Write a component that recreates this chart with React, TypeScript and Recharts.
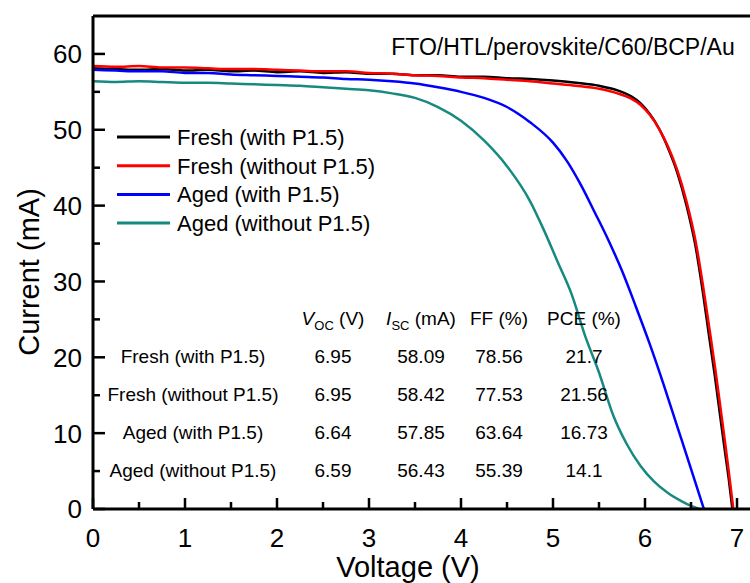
import { LineChart, Line, XAxis, YAxis, Legend, ReferenceLine, Label } from "recharts";

const FONT = '"Liberation Sans", Arial, Helvetica, sans-serif';

// J-V sweeps: voltage (V) and current (mA) per device
const freshWithV = [0, 0.25, 0.5, 0.75, 1, 1.25, 1.5, 1.75, 2, 2.25, 2.5, 2.75, 3, 3.25, 3.5, 3.75, 4, 4.25, 4.5, 4.75, 5, 5.25, 5.5, 5.7, 5.85, 5.95, 6.05, 6.15, 6.25, 6.35, 6.45, 6.55, 6.63, 6.7, 6.76, 6.82, 6.87, 6.91, 6.95];
const freshWithI = [58.1, 58.0, 57.9, 58.0, 57.8, 57.9, 57.7, 57.8, 57.6, 57.7, 57.5, 57.6, 57.4, 57.4, 57.2, 57.2, 57.0, 57.0, 56.8, 56.7, 56.5, 56.2, 55.8, 55.2, 54.4, 53.5, 52.1, 50.2, 47.6, 44.4, 40.1, 34.6, 28.5, 22.5, 17.5, 12.0, 7.5, 4.0, 0];

const freshWithoutV = [0, 0.25, 0.5, 0.75, 1, 1.25, 1.5, 1.75, 2, 2.25, 2.5, 2.75, 3, 3.25, 3.5, 3.75, 4, 4.25, 4.5, 4.75, 5, 5.25, 5.5, 5.7, 5.85, 5.95, 6.05, 6.15, 6.25, 6.35, 6.45, 6.55, 6.63, 6.7, 6.76, 6.82, 6.87, 6.91, 6.94, 6.96];
const freshWithoutI = [58.4, 58.3, 58.4, 58.2, 58.2, 58.1, 58.0, 58.0, 57.9, 57.8, 57.7, 57.7, 57.5, 57.4, 57.2, 57.1, 56.9, 56.8, 56.6, 56.4, 56.1, 55.8, 55.4, 54.8, 54.1, 53.3, 52.0, 50.2, 47.8, 44.7, 40.6, 35.3, 29.5, 23.8, 18.8, 13.4, 8.8, 5.0, 2.0, 0];

const agedWithV = [0, 0.25, 0.5, 0.75, 1, 1.25, 1.5, 1.75, 2, 2.25, 2.5, 2.75, 3, 3.25, 3.5, 3.75, 4, 4.25, 4.5, 4.75, 5, 5.15, 5.3, 5.45, 5.6, 5.75, 5.9, 6.05, 6.2, 6.35, 6.5, 6.64];
const agedWithI = [57.9, 57.8, 57.7, 57.7, 57.5, 57.5, 57.3, 57.2, 57.1, 57.0, 56.9, 56.7, 56.6, 56.4, 56.1, 55.6, 55.0, 54.2, 53.0, 51.0, 48.3, 45.9, 42.8, 39.2, 35.5, 31.4, 26.7, 21.8, 16.5, 10.9, 5.3, 0];

const agedWithoutV = [0, 0.25, 0.5, 0.75, 1, 1.25, 1.5, 1.75, 2, 2.25, 2.5, 2.75, 3, 3.25, 3.5, 3.75, 4, 4.25, 4.5, 4.75, 4.9, 5.05, 5.2, 5.35, 5.5, 5.65, 5.8, 5.95, 6.1, 6.25, 6.4, 6.5, 6.59];
const agedWithoutI = [56.4, 56.3, 56.4, 56.3, 56.2, 56.2, 56.1, 56.0, 55.9, 55.8, 55.6, 55.4, 55.2, 54.8, 54.2, 53.0, 51.2, 48.6, 45.2, 40.6, 36.8, 32.6, 28.4, 22.8, 18.0, 12.5, 8.6, 5.7, 3.6, 2.1, 1.0, 0.4, 0];

// photovoltaic parameters table
const devices = ["Fresh (with P1.5)", "Fresh (without P1.5)", "Aged (with P1.5)", "Aged (without P1.5)"];
const vocValues = ["6.95", "6.95", "6.64", "6.59"];
const iscValues = ["58.09", "58.42", "57.85", "56.43"];
const ffValues = ["78.56", "77.53", "63.64", "55.39"];
const pceValues = ["21.7", "21.56", "16.73", "14.1"];

const seriesColors = ["#000000", "#ff0000", "#0000ff", "#178a80"];

const xTicks = [0, 0.5, 1, 1.5, 2, 2.5, 3, 3.5, 4, 4.5, 5, 5.5, 6, 6.5, 7];
const yTicks = [0, 5, 10, 15, 20, 25, 30, 35, 40, 45, 50, 55, 60];

const toPoints = (v: number[], i: number[]) => v.map((volt, k) => ({ v: volt, i: i[k] }));

const series = [
  { name: devices[0], data: toPoints(freshWithV, freshWithI), color: seriesColors[0] },
  { name: devices[1], data: toPoints(freshWithoutV, freshWithoutI), color: seriesColors[1] },
  { name: devices[2], data: toPoints(agedWithV, agedWithI), color: seriesColors[2] },
  { name: devices[3], data: toPoints(agedWithoutV, agedWithoutI), color: seriesColors[3] },
];

function XTick({ x, y, payload }: any) {
  const major = Number.isInteger(payload.value);
  return (
    <g>
      <line x1={x} x2={x} y1={y} y2={y - (major ? 11 : 7)} stroke="#000" strokeWidth={2.5} />
      {major && (
        <text x={x} y={y + 38} textAnchor="middle" fontSize={26} fontFamily={FONT} fill="#000">
          {payload.value}
        </text>
      )}
    </g>
  );
}

function YTick({ x, y, payload }: any) {
  const major = payload.value % 10 === 0;
  return (
    <g>
      <line x1={x} x2={x + (major ? 12 : 7)} y1={y} y2={y} stroke="#000" strokeWidth={2.5} />
      {major && (
        <text x={x - 11} y={y} dy="0.36em" textAnchor="end" fontSize={26} fontFamily={FONT} fill="#000">
          {payload.value}
        </text>
      )}
    </g>
  );
}

function LegendBox({ payload }: any) {
  // keep the legend in series order
  const items = [...(payload || [])].sort(
    (a: any, b: any) => devices.indexOf(a.value) - devices.indexOf(b.value)
  );
  return (
    <svg width={300} height={116}>
      {items.map((p: any, k: number) => {
        const cy = 14 + k * 28.7;
        return (
          <g key={p.value}>
            <line x1={0} x2={53} y1={cy} y2={cy} stroke={p.color} strokeWidth={3} />
            <text x={60} y={cy} dy="0.36em" fontSize={22} fontFamily={FONT} fill="#000">
              {p.value}
            </text>
          </g>
        );
      })}
    </svg>
  );
}

const colX = [193, 333, 421, 499, 584];
const headerY = 318;
const rowY = [356, 394, 432, 470];

function ParamTable() {
  const txt = { fontSize: 19, fontFamily: FONT, fill: "#000", textAnchor: "middle" as const };
  return (
    <svg width={750} height={583} style={{ position: "absolute", left: 0, top: 0, pointerEvents: "none" }}>
      <text x={563} y={47} dy="0.36em" fontSize={23} fontFamily={FONT} fill="#000" textAnchor="middle">
        FTO/HTL/perovskite/C60/BCP/Au
      </text>
      <text x={colX[1]} y={headerY} dy="0.36em" {...txt}>
        <tspan fontStyle="italic">V</tspan>
        <tspan fontSize={13} dy={5}>OC</tspan>
        <tspan dy={-5}> (V)</tspan>
      </text>
      <text x={colX[2]} y={headerY} dy="0.36em" {...txt}>
        <tspan fontStyle="italic">I</tspan>
        <tspan fontSize={13} dy={5}>SC</tspan>
        <tspan dy={-5}> (mA)</tspan>
      </text>
      <text x={colX[3]} y={headerY} dy="0.36em" {...txt}>FF (%)</text>
      <text x={colX[4]} y={headerY} dy="0.36em" {...txt}>PCE (%)</text>
      {devices.map((d, k) => (
        <g key={d}>
          <text x={colX[0]} y={rowY[k]} dy="0.36em" {...txt}>{d}</text>
          <text x={colX[1]} y={rowY[k]} dy="0.36em" {...txt}>{vocValues[k]}</text>
          <text x={colX[2]} y={rowY[k]} dy="0.36em" {...txt}>{iscValues[k]}</text>
          <text x={colX[3]} y={rowY[k]} dy="0.36em" {...txt}>{ffValues[k]}</text>
          <text x={colX[4]} y={rowY[k]} dy="0.36em" {...txt}>{pceValues[k]}</text>
        </g>
      ))}
    </svg>
  );
}

export default function App() {
  return (
    <div
      style={{
        position: "absolute",
        left: 0,
        top: 0,
        width: 750,
        height: 583,
        overflow: "hidden",
        background: "#fff",
        fontFamily: FONT,
      }}
    >
      <LineChart width={770} height={583} margin={{ top: 16, right: 14.6, left: 0, bottom: 0 }}>
        <XAxis
          dataKey="v"
          type="number"
          domain={[0, 7.2]}
          ticks={xTicks}
          interval={0}
          allowDuplicatedCategory={false}
          height={74}
          tickSize={0}
          tickMargin={0}
          tickLine={false}
          axisLine={{ stroke: "#000", strokeWidth: 3 }}
          tick={<XTick />}
        >
          <Label
            content={() => (
              <text x={408} y={577} textAnchor="middle" fontSize={29} fontFamily={FONT} fill="#000">
                Voltage (V)
              </text>
            )}
          />
        </XAxis>
        <YAxis
          dataKey="i"
          type="number"
          domain={[0, 65]}
          ticks={yTicks}
          interval={0}
          width={93}
          tickSize={0}
          tickMargin={0}
          tickLine={false}
          axisLine={{ stroke: "#000", strokeWidth: 3 }}
          tick={<YTick />}
        >
          <Label
            content={() => (
              <text
                x={29}
                y={272}
                transform="rotate(-90 29 272)"
                dy="0.36em"
                textAnchor="middle"
                fontSize={29}
                fontFamily={FONT}
                fill="#000"
              >
                Current (mA)
              </text>
            )}
          />
        </YAxis>
        <ReferenceLine y={65} stroke="#000" strokeWidth={3} />
        <ReferenceLine x={7.2} stroke="#000" strokeWidth={3} />
        {series.map((s) => (
          <Line
            key={s.name}
            data={s.data}
            dataKey="i"
            name={s.name}
            type="monotone"
            stroke={s.color}
            strokeWidth={2.5}
            dot={false}
            isAnimationActive={false}
          />
        ))}
        <Legend
          layout="vertical"
          align="center"
          verticalAlign="middle"
          wrapperStyle={{ left: 117, top: 123, width: 300, height: 116 }}
          content={<LegendBox />}
        />
      </LineChart>
      <ParamTable />
    </div>
  );
}
